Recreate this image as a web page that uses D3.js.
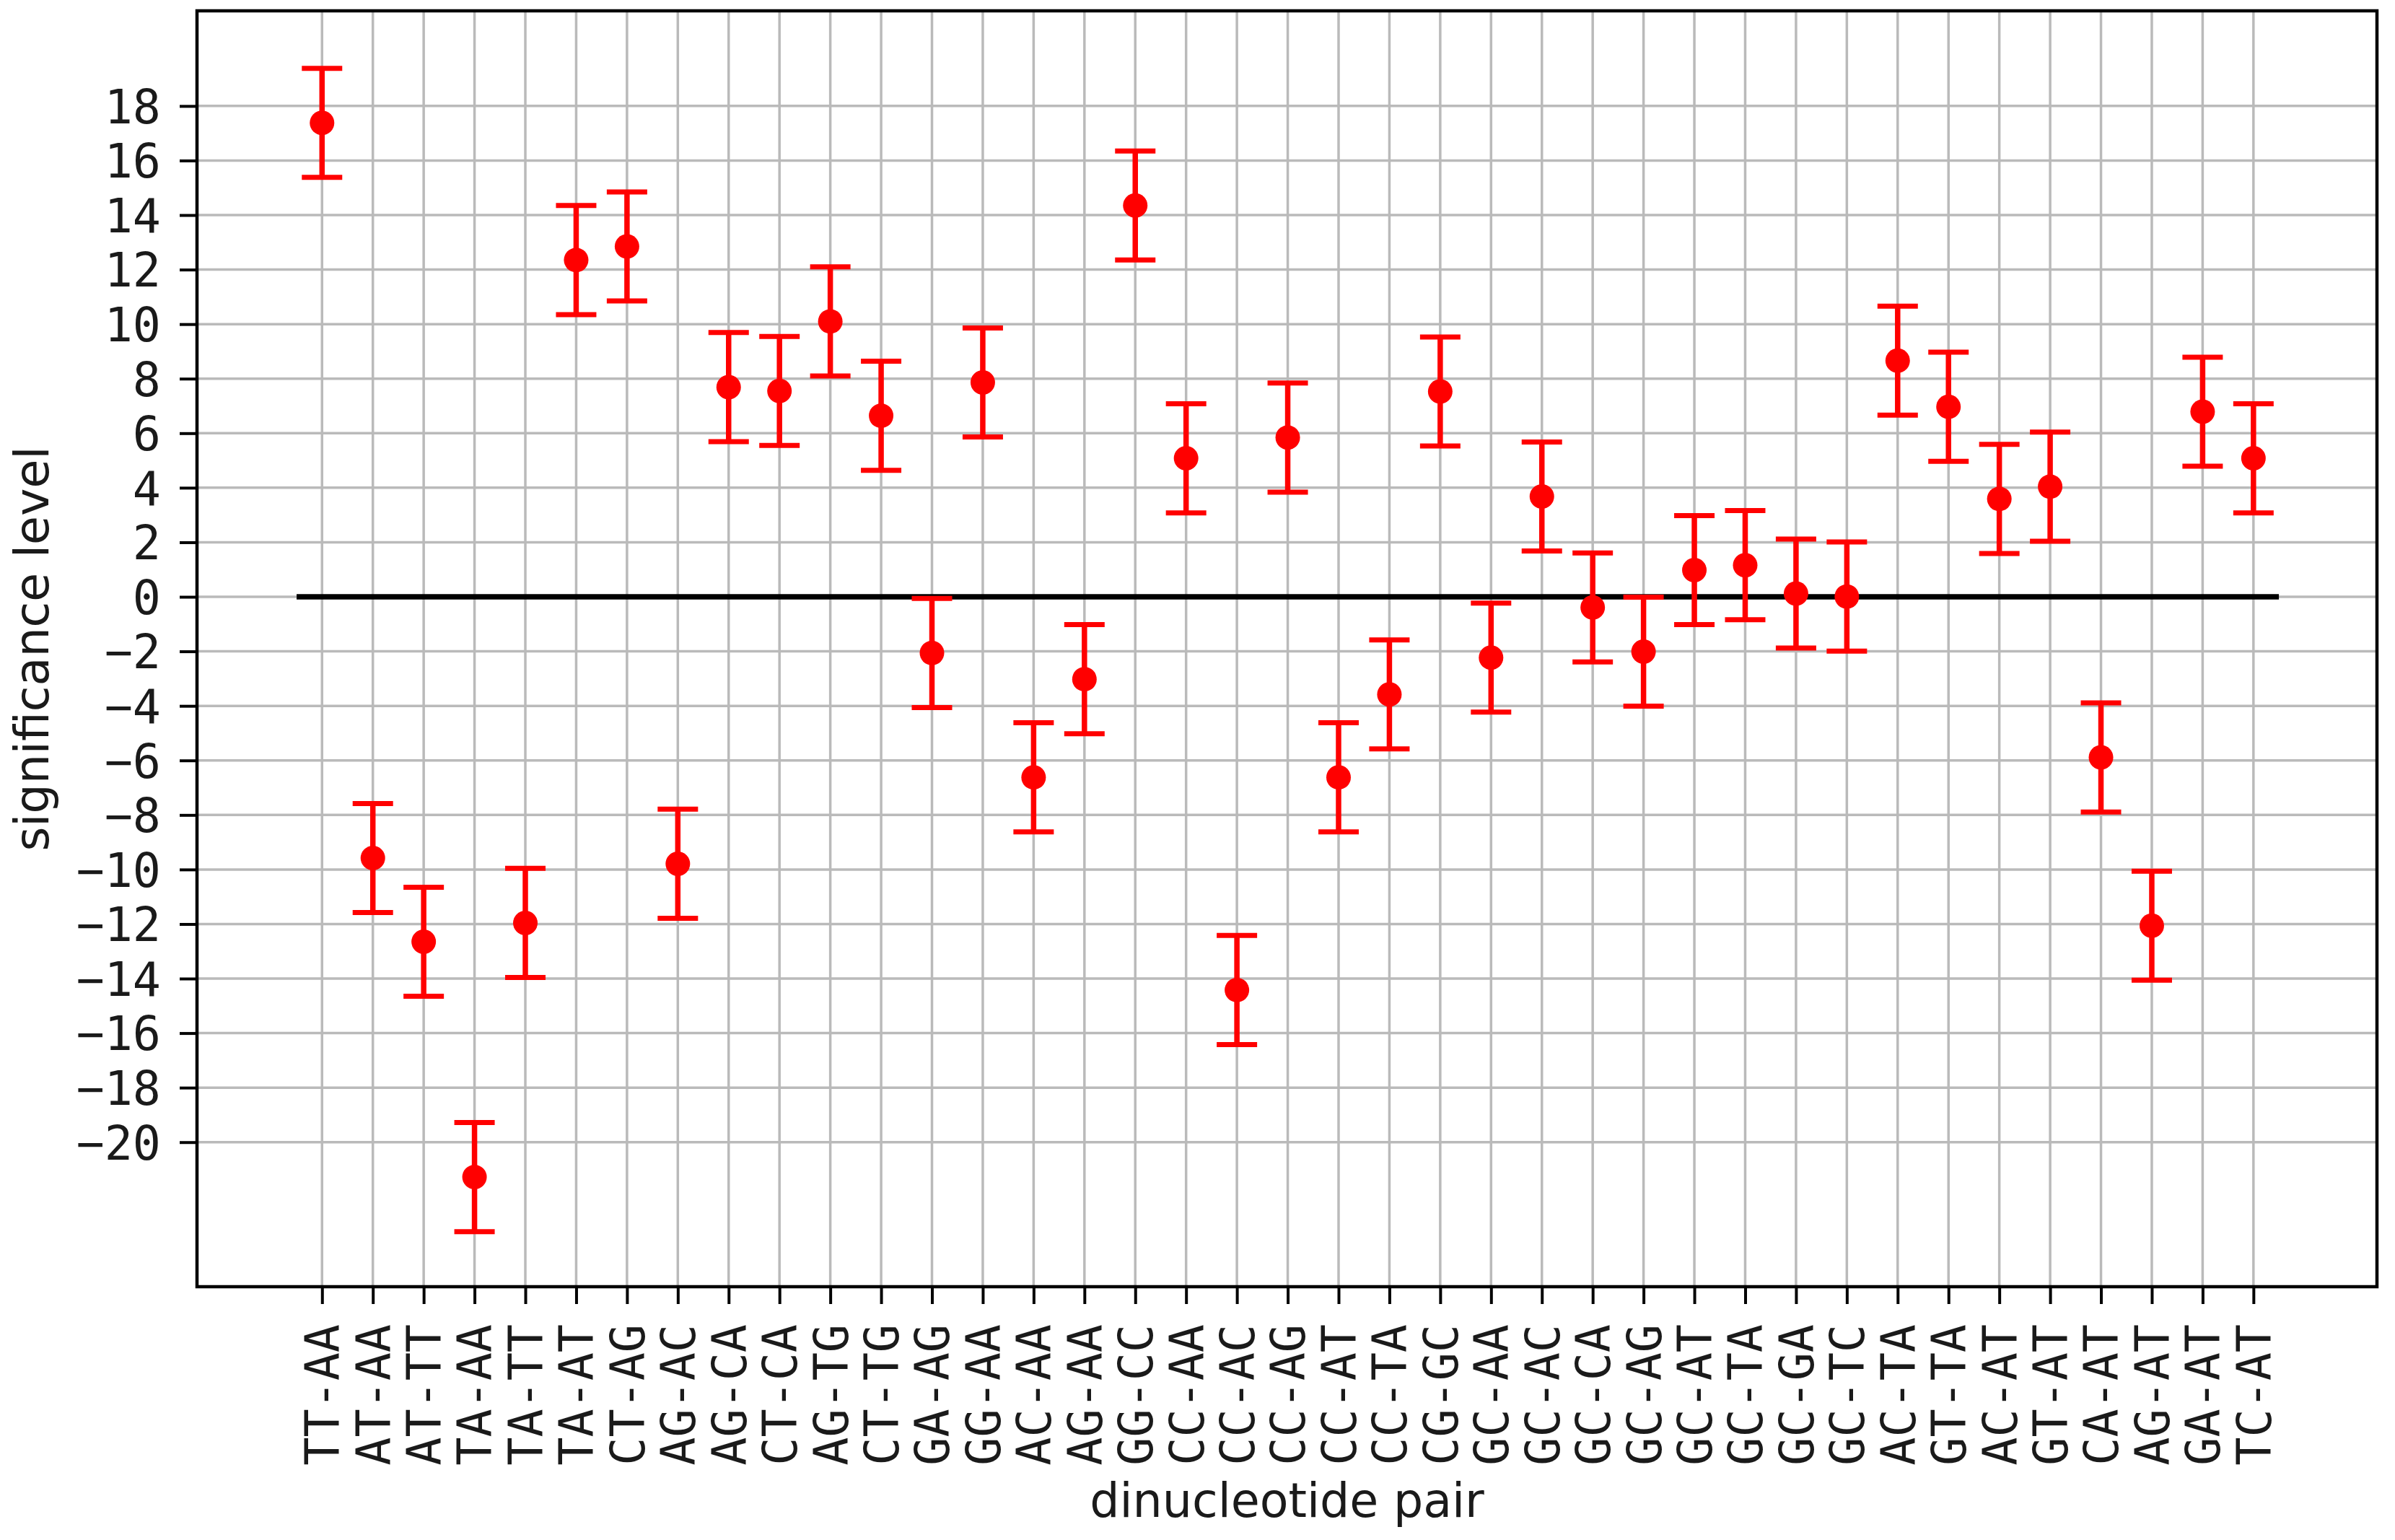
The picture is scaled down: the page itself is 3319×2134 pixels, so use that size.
<!DOCTYPE html>
<html>
<head>
<meta charset="utf-8">
<script src="https://cdn.jsdelivr.net/npm/d3@7"></script>
<style>
  html, body { margin: 0; padding: 0; background: #ffffff; }
  svg { display: block; }
</style>
</head>
<body>
<script>
// ---- data ----
const categories = ["TT-AA","AT-AA","AT-TT","TA-AA","TA-TT","TA-AT","CT-AG","AG-AC","AG-CA","CT-CA",
  "AG-TG","CT-TG","GA-AG","GG-AA","AC-AA","AG-AA","GG-CC","CC-AA","CC-AC","CC-AG",
  "CC-AT","CC-TA","CG-GC","GC-AA","GC-AC","GC-CA","GC-AG","GC-AT","GC-TA","GC-GA",
  "GC-TC","AC-TA","GT-TA","AC-AT","GT-AT","CA-AT","AG-AT","GA-AT","TC-AT"];
const values = [17.38,-9.58,-12.65,-21.28,-11.96,12.35,12.85,-9.79,7.69,7.55,
  10.1,6.64,-2.06,7.86,-6.62,-3.02,14.35,5.08,-14.42,5.84,
  -6.62,-3.58,7.53,-2.23,3.68,-0.39,-2.01,0.98,1.16,0.12,
  0.01,8.66,6.97,3.59,4.04,-5.89,-12.06,6.79,5.08];
const errors = [2,2,2,2,2,2,2,2,2,2, 2,2,2,2,2,2,2,2,2,2, 2,2,2,2,2,2,2,2,2,2, 2,2,2,2,2,2,2,2,2];
const yTickValues = [-20,-18,-16,-14,-12,-10,-8,-6,-4,-2,0,2,4,6,8,10,12,14,16,18];
const referenceLine = {value: 0, from: -0.5, to: 38.5};
const xLabel = "dinucleotide pair";
const yLabel = "significance level";

// ---- layout ----
const W = 3319, H = 2134;
const padL = 273, padR = 3294, padT = 15, padB = 1783;

const svg = d3.select("body").append("svg")
  .attr("width", W).attr("height", H)
  .style("background", "#ffffff");

const x = d3.scaleLinear().domain([-2.46, 40.43]).range([padL, padR]);
const y = d3.scaleLinear().domain([-25.3, 21.49]).range([padB, padT]);
const idx = categories.map((c, i) => i);

// grid
const grid = svg.append("g").attr("class", "grid");
grid.selectAll("line.v").data(idx).join("line")
  .attr("x1", d => x(d)).attr("x2", d => x(d))
  .attr("y1", padT).attr("y2", padB)
  .attr("stroke", "#bababa").attr("stroke-width", 3.5);
grid.selectAll("line.h").data(yTickValues).join("line")
  .attr("x1", padL).attr("x2", padR)
  .attr("y1", d => y(d)).attr("y2", d => y(d))
  .attr("stroke", "#bababa").attr("stroke-width", 3.5);

// reference zero line
svg.append("line")
  .attr("x1", x(referenceLine.from)).attr("x2", x(referenceLine.to))
  .attr("y1", y(referenceLine.value)).attr("y2", y(referenceLine.value))
  .attr("stroke", "#000").attr("stroke-width", 7.5);

// error bars
const eb = svg.append("g").attr("class", "errorbars");
const pts = idx.map(i => ({i, v: values[i], e: errors[i]}));
eb.selectAll("line.stem").data(pts).join("line")
  .attr("x1", d => x(d.i)).attr("x2", d => x(d.i))
  .attr("y1", d => y(d.v + d.e)).attr("y2", d => y(d.v - d.e))
  .attr("stroke", "#ff0000").attr("stroke-width", 7.5);
["hi", "lo"].forEach(k => {
  eb.append("g").selectAll("line").data(pts).join("line")
    .attr("x1", d => x(d.i) - 28).attr("x2", d => x(d.i) + 28)
    .attr("y1", d => y(k === "hi" ? d.v + d.e : d.v - d.e))
    .attr("y2", d => y(k === "hi" ? d.v + d.e : d.v - d.e))
    .attr("stroke", "#ff0000").attr("stroke-width", 7);
});
eb.selectAll("circle").data(pts).join("circle")
  .attr("cx", d => x(d.i)).attr("cy", d => y(d.v)).attr("r", 17)
  .attr("fill", "#ff0000");

// axes
const monoFont = "'DejaVu Sans Mono', monospace";
const yAxis = svg.append("g").attr("transform", `translate(${padL},0)`)
  .call(d3.axisLeft(y).tickValues(yTickValues).tickSize(24).tickPadding(26)
    .tickFormat(d => d < 0 ? "\u2212" + Math.abs(d) : String(d)));
yAxis.select(".domain").remove();
yAxis.selectAll(".tick line").attr("stroke", "#000").attr("stroke-width", 4);
yAxis.selectAll(".tick text")
  .attr("font-family", monoFont).attr("font-size", 65).attr("fill", "#1a1a1a")
  .attr("dy", "0.36em");

const xAxis = svg.append("g").attr("transform", `translate(0,${padB})`)
  .call(d3.axisBottom(x).tickValues(idx).tickSize(24).tickFormat(i => categories[i]));
xAxis.select(".domain").remove();
xAxis.selectAll(".tick line").attr("stroke", "#000").attr("stroke-width", 4);
xAxis.selectAll(".tick text")
  .attr("font-family", monoFont).attr("font-size", 65).attr("fill", "#1a1a1a")
  .attr("transform", "rotate(-90)")
  .attr("text-anchor", "end")
  .attr("x", -52).attr("y", 0).attr("dy", "0.36em");

// frame
svg.append("rect")
  .attr("x", padL).attr("y", padT)
  .attr("width", padR - padL).attr("height", padB - padT)
  .attr("fill", "none").attr("stroke", "#000").attr("stroke-width", 4.5);

// axis labels
svg.append("text")
  .attr("x", (padL + padR) / 2).attr("y", 2102)
  .attr("text-anchor", "middle")
  .attr("font-family", "'DejaVu Sans', sans-serif").attr("font-size", 65)
  .attr("fill", "#1a1a1a")
  .text(xLabel);
svg.append("text")
  .attr("transform", `translate(67,${(padT + padB) / 2}) rotate(-90)`)
  .attr("text-anchor", "middle")
  .attr("font-family", "'DejaVu Sans', sans-serif").attr("font-size", 65)
  .attr("fill", "#1a1a1a")
  .text(yLabel);
</script>
</body>
</html>
